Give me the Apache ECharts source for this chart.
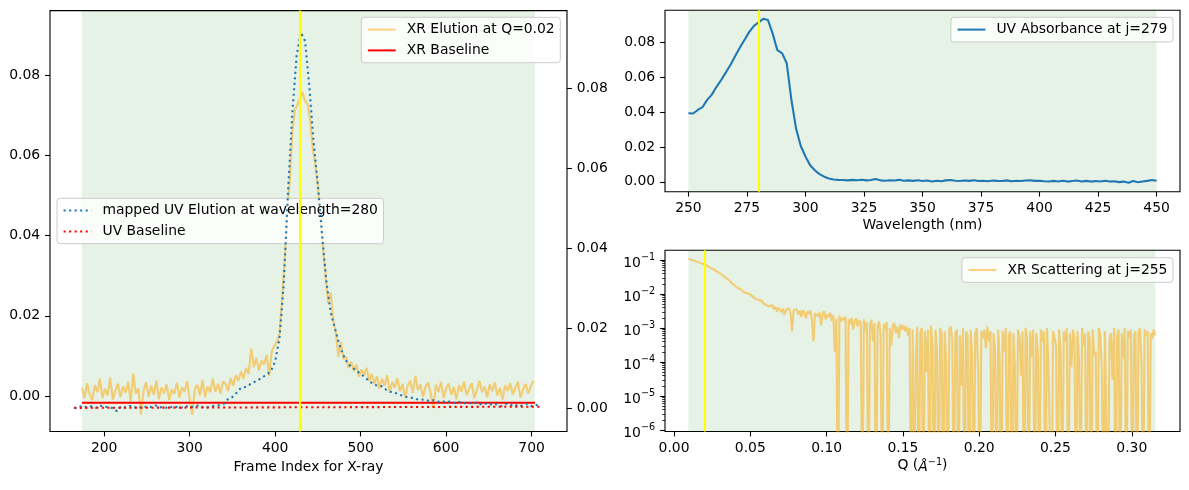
<!DOCTYPE html>
<html>
<head>
<meta charset="utf-8">
<title>XR / UV elution</title>
<script src="https://cdn.jsdelivr.net/npm/echarts@6/dist/echarts.min.js"></script>
<style>
  html, body { margin: 0; padding: 0; background: #fff; }
  #chart { width: 1189px; height: 490px; }
</style>
</head>
<body>
<div id="chart"></div>
<script>
// ---- left panel: elution at Q=0.02 (left axis) and mapped UV elution (right axis)
const xrFrameStart = 174, xrFrameStep = 3;
const xrElution = [
  0.0021, -0.0006, 0.0032, 0.0004, -0.0011, 0.0027, 0.0009, 0.0043, -0.0005, 0.0018,
  0.0001, 0.0046, -0.0009, 0.0013, 0.0031, -0.0003, 0.0024, 0.0008, 0.0035, -0.0014,
  0.0056, 0.0006, 0.0019, -0.0046, 0.0012, 0.0034, -0.0002, 0.0026, 0.0003, 0.0039,
  -0.0008, 0.0021, 0.0007, 0.0029, -0.0010, 0.0016, 0.0005, 0.0033, -0.0004, 0.0022,
  0.0010, 0.0037, -0.0007, -0.0047, 0.0017, 0.0028, 0.0002, 0.0040, -0.0003, 0.0024,
  0.0009, 0.0044, 0.0011, 0.0030, 0.0006, 0.0036,
  // 342 .. 399
  0.0030, 0.0012, 0.0045, 0.0026, 0.0052, 0.0038, 0.0061, 0.0043, 0.0070, 0.0055,
  0.0118, 0.0072, 0.0095, 0.0064, 0.0088, 0.0079, 0.0102, 0.0050, 0.0112, 0.0125,
  // 402 .. 480
  0.0135, 0.0155, 0.0240, 0.0335, 0.0445, 0.0535, 0.0655, 0.0712, 0.0726, 0.0742,
  0.0757, 0.0736, 0.0727, 0.0688, 0.0615, 0.0578, 0.0520, 0.0442, 0.0368, 0.0300,
  0.0232, 0.0258, 0.0188, 0.0158, 0.0098, 0.0135, 0.0092,
  // 483 .. 702
  0.0098, 0.0070, 0.0085, 0.0062, 0.0078, 0.0048, 0.0066, 0.0052, 0.0070, 0.0038,
  0.0055, 0.0030, 0.0049, 0.0018, 0.0043, 0.0026, 0.0052, 0.0009, 0.0035, 0.0021,
  0.0044, 0.0012, 0.0030, -0.0004, 0.0026, 0.0038, 0.0008, 0.0050, 0.0015, 0.0029,
  -0.0002, 0.0024, 0.0033, 0.0006, -0.0030, 0.0028, 0.0010, 0.0035, -0.0005, 0.0019,
  0.0031, 0.0003, 0.0022, -0.0008, 0.0027, 0.0011, 0.0036, 0.0002, 0.0018, 0.0032,
  -0.0006, 0.0015, 0.0038, 0.0009, 0.0024, -0.0003, 0.0029, 0.0012, 0.0034, 0.0001,
  0.0020, -0.0009, 0.0026, 0.0013, 0.0032, 0.0004, 0.0021, 0.0035, -0.0004, 0.0017,
  0.0030, 0.0006, 0.0024, 0.0038
];

const uvFrameStart = 165, uvFrameStep = 5;
const uvElution = [
  0.0001, 0.0004, 0.0007, 0.0003, 0.0006, 0.0002, 0.0008, 0.0004, 0.0005, 0.0001,
  -0.0006, 0.0006, 0.0003, 0.0007, 0.0002, 0.0005, 0.0001, 0.0006, 0.0004, 0.0008,
  0.0003, 0.0005, 0.0000, 0.0006, 0.0004, 0.0002, 0.0007, 0.0003, 0.0005, 0.0008,
  0.0004, 0.0002, 0.0006, 0.0007, 0.0009,
  // 340 .. 400
  0.0012, 0.0024, 0.0029, 0.0040, 0.0052, 0.0054, 0.0060, 0.0066, 0.0071, 0.0078,
  0.0085, 0.0094, 0.0118,
  // 405 .. 480
  0.0175, 0.0310, 0.0540, 0.0735, 0.0880, 0.0940, 0.0918, 0.0805, 0.0665, 0.0558,
  0.0432, 0.0315, 0.0240, 0.0200, 0.0160, 0.0132,
  // 485 .. 710
  0.0112, 0.0103, 0.0095, 0.0087, 0.0078, 0.0069, 0.0061, 0.0057, 0.0056, 0.0047,
  0.0042, 0.0040, 0.0035, 0.0032, 0.0028, 0.0027, 0.0024, 0.0022, 0.0023, 0.0019,
  0.0021, 0.0017, 0.0019, 0.0016, 0.0018, 0.0014, 0.0017, 0.0013, 0.0016, 0.0012,
  0.0015, 0.0011, 0.0014, 0.0009, 0.0013, 0.0010, 0.0006, 0.0012, 0.0008, 0.0011,
  0.0005, 0.0009, 0.0012, 0.0006, 0.0010, 0.0004
];

const xrBaseFrames = [174, 704];
const xrBaseline = [-0.00167, -0.00167];
const uvBaseFrames = [165, 713];
const uvBaseline = [0.0002, 0.0005];
const elutionSpan = [174, 704];
const elutionPick = 429;

// ---- top right: UV absorbance spectrum
const wlStart = 250, wlStep = 2;
const uvAbsorbance = [
  0.0393, 0.0392, 0.0412, 0.0428, 0.0470, 0.0500, 0.0545, 0.0584, 0.0628, 0.0672,
  0.0722, 0.0770, 0.0815, 0.0860, 0.0895, 0.0915, 0.0935, 0.0928, 0.0850, 0.0755,
  0.0738, 0.0680, 0.0470, 0.0305, 0.0205, 0.0145, 0.0095, 0.0066, 0.0044, 0.0029,
  0.0019, 0.0013, 0.0011,
  // 316 .. 450
  0.0010, 0.0008, 0.0011, 0.0009, 0.0012, 0.0008, 0.0010, 0.0016, 0.0008, 0.0006,
  0.0009, 0.0007, 0.0011, 0.0006, 0.0008, 0.0005, 0.0009, 0.0004, 0.0007, 0.0002,
  0.0006, 0.0003, 0.0008, 0.0010, 0.0006, 0.0004, 0.0007, 0.0005, 0.0009, 0.0004,
  0.0006, 0.0003, 0.0007, 0.0005, 0.0004, 0.0008, 0.0003, 0.0006, 0.0004, 0.0007,
  0.0009, 0.0005, 0.0006, 0.0003, 0.0002, 0.0005, 0.0002, 0.0006, 0.0001, 0.0004,
  0.0007, 0.0002, 0.0005, 0.0001, 0.0004, 0.0002, 0.0006, 0.0001, 0.0003, -0.0002,
  0.0001, -0.0006, 0.0004, -0.0003, 0.0002, 0.0005, 0.0010, 0.0006
];
const uvSpan = [250, 450];
const uvPick = 280;

// ---- bottom right: XR scattering curve (negative values fall below the log axis)
const qStart = 0.0094, qStep = 0.001;
const xrScattering = [
  0.108, 0.104, 0.101, 0.098, 0.095, 0.091, 0.088, 0.085, 0.081, 0.078,
  0.075, 0.071, 0.068, 0.064, 0.061, 0.058, 0.055, 0.051, 0.048, 0.045, 0.042, 0.040,
  // 0.0314 ..
  0.037, 0.034, 0.031, 0.0295, 0.027, 0.024, 0.022, 0.020, 0.0185, 0.017,
  0.0155, 0.0162, 0.0140, 0.0128, 0.0118, 0.0122, 0.0105, 0.0098, 0.0102, 0.0090,
  // 0.0514 ..
  0.0085, 0.0080, 0.0072, 0.0078, 0.0066, 0.0060, 0.0064, 0.0054, 0.0058, 0.0047,
  0.0052, 0.0043, 0.0039, 0.0048, 0.0036, 0.0042, 0.0031, 0.0040, 0.0034, 0.0029,
  // 0.0714 ..
  0.0037, 0.0024, 0.0035, 0.0031, 0.0038, 0.0027, 0.0008, 0.0033, 0.0029, 0.0036,
  0.0025, 0.0032, 0.0021, 0.0034, 0.0028, 0.0019, 0.0031, 0.0026, 0.0033, 0.0017,
  // 0.0914 ..
  0.0004, 0.0027, 0.0030, 0.0022, 0.0029, 0.0012, 0.0026, 0.0031, 0.0018, 0.0025,
  0.0021, 0.0028, 0.0016, 0.0024, 0.0002, 0.0019, -0.0003, 0.0023, 0.0015, 0.0020,
  // 0.1114 ..
  0.0017, 0.0021, -0.0004, 0.0018, 0.0013, 0.0020, 0.0009, 0.0016, 0.0019, 0.0011,
  0.0017, 0.0014, -0.0002, 0.0018, 0.0008, 0.0015, -0.0005, 0.0013, 0.0017, 0.0004,
  // 0.1314 ..
  0.0014, -0.0003, 0.0011, 0.0016, 0.0006, -0.0001, 0.0013, 0.0009, 0.0015, -0.0004,
  0.0010, 0.0003, 0.0012, 0.0014, 0.0007, 0.0011, 0.0005, 0.0013, 0.0009, 0.0012,
  // 0.1514 ..
  0.0008, 0.0011, 0.0006, 0.0010, -0.0002, 0.0009, -0.0005, 0.00012, 0.0011, -0.0001,
  0.0007, 0.0010, -0.0003, 0.0008, 0.00005, 0.0009, -0.0006, 0.0012, 0.0003, -0.0002,
  // 0.1714 ..
  0.0009, 0.00018, -0.0004, 0.0010, 0.0007, -0.0001, 0.0008, 0.00009, -0.0003, 0.0009,
  0.0011, 0.0004, -0.0005, 0.0007, 0.0009, -0.0002, 0.0006, 0.00002, 0.0010, -0.0003,
  // 0.1914 ..
  0.0008, 0.0006, -0.0001, 0.0009, 0.00015, -0.0004, 0.0007, 0.0010, 0.00004, -0.0002,
  0.0008, 0.0005, 0.0009, 0.00025, 0.0011, 0.0004, 0.0008, -0.0003, 0.0007, 0.0002,
  // 0.2114 ..
  -0.0001, 0.0009, 0.00012, -0.0004, 0.0008, 0.0002, 0.0010, -0.0002, 0.0006, 0.0008,
  -0.0005, 0.0007, 0.00007, -0.0001, 0.0009, 0.0006, 0.00004, 0.0008, -0.0003, 0.0010,
  // 0.2314 ..
  0.0005, -0.0002, 0.0008, 0.00014, 0.0009, -0.0004, 0.0007, 0.0002, -0.0001, 0.0009,
  0.0004, 0.0008, -0.0003, 0.0010, 0.00009, 0.0001, -0.0005, 0.0008, 0.0007, 0.0003,
  // 0.2514 ..
  -0.0002, 0.0009, 0.00018, -0.0001, 0.0008, 0.0004, 0.0010, -0.0004, 0.0007, 0.00007,
  0.0009, 0.0005, -0.0003, 0.0008, 0.00011, -0.0002, 0.0010, 0.0003, 0.0007, -0.0001,
  // 0.2714 ..
  0.0008, 0.0005, -0.0005, 0.0009, 0.00016, 0.0002, -0.0002, 0.0010, 0.0006, 0.00006,
  -0.0003, 0.0008, 0.0009, -0.0001, 0.0005, 0.0007, 0.00003, 0.0010, -0.0004, 0.0006,
  // 0.2914 ..
  0.0009, -0.0002, 0.0007, 0.00013, 0.0010, -0.0003, 0.0008, 0.0005, 0.0009, -0.0001,
  0.0006, 0.0008, -0.0004, 0.0007, 0.0010, 0.00008, -0.0002, 0.0009, 0.0006, 0.0008,
  // 0.3114 .. 0.3154
  -0.0001, 0.0007, 0.0005, 0.0009, 0.0006
];
const qSpan = [0.0094, 0.3154];
const qPick = 0.02;

// ---- tick labels
const frameTicks = [200, 300, 400, 500, 600, 700];
const elutionTicks = [0, 0.02, 0.04, 0.06, 0.08];
const wlTicks = [250, 275, 300, 325, 350, 375, 400, 425, 450];
const absTicks = [0, 0.02, 0.04, 0.06, 0.08];
const qTicks = [0, 0.05, 0.1, 0.15, 0.2, 0.25, 0.3];
const scatTicks = [1e-6, 1e-5, 1e-4, 1e-3, 1e-2, 1e-1];

const FONT = 'DejaVu Sans';
const FS = 13.9;
const LW = 2.08;
const DOT = [LW, LW * 1.65];
const BLUE = '#1f77b4';
const LOG_MIN = 9.03e-7, LOG_MAX = 0.193;

function seq(start, step, values) {
  return values.map((v, i) => [+(start + i * step).toFixed(4), v]);
}
function xy(xs, ys) {
  return xs.map((x, i) => [x, ys[i]]);
}
const fix2 = v => v.toFixed(2);
const supMinus = n => (n < 0 ? '\u2212' + (-n) : String(n));

const supRich = {
  b: { color: '#000', fontFamily: FONT, fontSize: FS, padding: [6, 0, 0, 0] },
  sup: { color: '#000', fontFamily: FONT, fontSize: 9.7, padding: [0, 0, 6, 0] }
};

function axisBase(ticks, fmt) {
  return {
    axisLine: { show: false, onZero: false },
    splitLine: { show: false },
    axisTick: { show: true, length: 4.9, lineStyle: { color: '#000', width: 1.1 }, customValues: ticks },
    axisLabel: { color: '#000', fontFamily: FONT, fontSize: FS, margin: 9.8, customValues: ticks, formatter: fmt },
    nameTextStyle: { color: '#000', fontFamily: FONT, fontSize: FS }
  };
}
function span(range) {
  return { silent: true, itemStyle: { color: 'green', opacity: 0.1 }, data: [[{ xAxis: range[0] }, { xAxis: range[1] }]] };
}
function pick(x) {
  return {
    silent: true, symbol: ['none', 'none'], label: { show: false },
    lineStyle: { color: 'yellow', width: LW, type: 'solid', opacity: 1 },
    data: [{ xAxis: x }]
  };
}

// minor ticks of the log axis (2..9 x 10^n)
const logMinor = [];
for (let e = -7; e <= -1; e++) {
  for (let k = 2; k <= 9; k++) {
    const v = k * Math.pow(10, e);
    if (v > LOG_MIN && v < LOG_MAX) logMinor.push(v);
  }
}

const legendBase = {
  orient: 'vertical',
  itemWidth: 27.8,
  itemHeight: 14,
  itemGap: 6.8,
  padding: [5.3, 5.6, 5.3, 5.6],
  backgroundColor: 'rgba(255,255,255,0.8)',
  borderColor: '#cccccc',
  borderWidth: 1,
  borderRadius: 3,
  selectedMode: false,
  align: 'left',
  itemStyle: { opacity: 0, borderWidth: 0 },
  textStyle: { color: '#000', fontFamily: FONT, fontSize: FS, padding: [0, 0, 0, 6.1] }
};

const logAxis = axisBase(scatTicks, v => '{b|10}{sup|' + supMinus(Math.round(Math.log10(v))) + '}');
logAxis.axisLabel.rich = supRich;

const chart = echarts.init(document.getElementById('chart'));

chart.setOption({
  animation: false,
  backgroundColor: '#fff',
  textStyle: { fontFamily: FONT },
  grid: [
    { left: 50, top: 10.6, width: 517, height: 420.9, show: true, borderColor: '#000', borderWidth: 1.1 },
    { left: 665, top: 10.3, width: 515, height: 181.4, show: true, borderColor: '#000', borderWidth: 1.1 },
    { left: 665, top: 250.3, width: 515, height: 181.2, show: true, borderColor: '#000', borderWidth: 1.1 }
  ],
  legend: [
    Object.assign({}, legendBase, { data: ['XR Elution at Q=0.02', 'XR Baseline'], right: 628.7, top: 17.3 }),
    Object.assign({}, legendBase, { data: ['mapped UV Elution at wavelength=280', 'UV Baseline'], left: 57, top: 198.3 }),
    Object.assign({}, legendBase, { data: ['UV Absorbance at j=279'], right: 16, top: 17.3 }),
    Object.assign({}, legendBase, { data: ['XR Scattering at j=255'], right: 16, top: 257.7 })
  ],
  xAxis: [
    Object.assign(axisBase(frameTicks, v => String(v)), {
      gridIndex: 0, type: 'value', min: 136.6, max: 741.4,
      name: 'Frame Index for X-ray', nameLocation: 'middle', nameGap: 27
    }),
    Object.assign(axisBase(wlTicks, v => String(v)), {
      gridIndex: 1, type: 'value', min: 240, max: 460,
      name: 'Wavelength (nm)', nameLocation: 'middle', nameGap: 27
    }),
    Object.assign(axisBase(qTicks, fix2), {
      gridIndex: 2, type: 'value', min: -0.0059, max: 0.3316,
      name: 'Q ({i|\u00c5}{sup|\u22121})', nameLocation: 'middle', nameGap: 24,
      nameTextStyle: {
        color: '#000', fontFamily: FONT, fontSize: FS,
        rich: {
          i: { color: '#000', fontFamily: FONT, fontSize: FS, fontStyle: 'italic', padding: [5, 0, 0, 0] },
          sup: { color: '#000', fontFamily: FONT, fontSize: 9.7, padding: [0, 0, 6, 0] }
        }
      }
    })
  ],
  yAxis: [
    Object.assign(axisBase(elutionTicks, fix2), { gridIndex: 0, type: 'value', position: 'left', min: -0.00885, max: 0.0961 }),
    Object.assign(axisBase(elutionTicks, fix2), { gridIndex: 0, type: 'value', position: 'right', min: -0.0057, max: 0.0994 }),
    Object.assign(axisBase(absTicks, fix2), { gridIndex: 1, type: 'value', min: -0.0057, max: 0.0984 }),
    Object.assign(logAxis, { gridIndex: 2, type: 'log', logBase: 10, min: LOG_MIN, max: LOG_MAX }),
    {
      gridIndex: 2, type: 'log', logBase: 10, min: LOG_MIN, max: LOG_MAX, position: 'left',
      axisLine: { show: false, onZero: false }, splitLine: { show: false }, axisLabel: { show: false },
      axisTick: { show: true, length: 2.8, lineStyle: { color: '#000', width: 0.8 }, customValues: logMinor }
    }
  ],
  series: [
    {
      name: 'XR Elution at Q=0.02', type: 'line', xAxisIndex: 0, yAxisIndex: 0, z: 3,
      symbol: 'none', showSymbol: false,
      data: seq(xrFrameStart, xrFrameStep, xrElution),
      lineStyle: { color: 'orange', width: LW, opacity: 0.5 },
      itemStyle: { color: 'orange' },
      markArea: span(elutionSpan),
      markLine: pick(elutionPick)
    },
    {
      name: 'XR Baseline', type: 'line', xAxisIndex: 0, yAxisIndex: 0, z: 4,
      symbol: 'none', showSymbol: false,
      data: xy(xrBaseFrames, xrBaseline),
      lineStyle: { color: 'red', width: LW },
      itemStyle: { color: 'red' }
    },
    {
      name: 'mapped UV Elution at wavelength=280', type: 'line', xAxisIndex: 0, yAxisIndex: 1, z: 4,
      symbol: 'none', showSymbol: false,
      data: seq(uvFrameStart, uvFrameStep, uvElution),
      lineStyle: { color: BLUE, width: LW, type: DOT },
      itemStyle: { color: BLUE }
    },
    {
      name: 'UV Baseline', type: 'line', xAxisIndex: 0, yAxisIndex: 1, z: 4,
      symbol: 'none', showSymbol: false,
      data: xy(uvBaseFrames, uvBaseline),
      lineStyle: { color: 'red', width: LW, type: DOT },
      itemStyle: { color: 'red' }
    },
    {
      name: 'UV Absorbance at j=279', type: 'line', xAxisIndex: 1, yAxisIndex: 2, z: 3,
      symbol: 'none', showSymbol: false,
      data: seq(wlStart, wlStep, uvAbsorbance),
      lineStyle: { color: BLUE, width: LW },
      itemStyle: { color: BLUE },
      markArea: span(uvSpan),
      markLine: pick(uvPick)
    },
    {
      name: 'XR Scattering at j=255', type: 'line', xAxisIndex: 2, yAxisIndex: 3, z: 3,
      symbol: 'none', showSymbol: false,
      // like matplotlib's log clipping, non-positive values drop below the axis
      data: seq(qStart, qStep, xrScattering).map(p => [p[0], p[1] > 0 ? p[1] : 1e-9]),
      lineStyle: { color: 'orange', width: LW, opacity: 0.5 },
      itemStyle: { color: 'orange' },
      markArea: span(qSpan),
      markLine: pick(qPick)
    }
  ]
});
</script>
</body>
</html>
